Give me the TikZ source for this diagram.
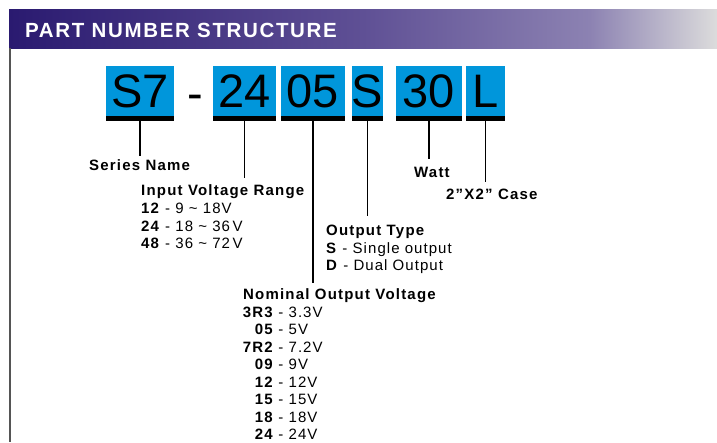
\documentclass[tikz,border=0pt]{standalone}
\usepackage{fontspec}
\setmainfont{Liberation Sans}
\usetikzlibrary{positioning, calc}

\definecolor{boxblue}{HTML}{0096DB}
\definecolor{hdrA}{HTML}{2A1A70}
\definecolor{hdrB}{HTML}{5F5095}
\definecolor{hdrC}{HTML}{8C82B2}
\definecolor{hdrD}{HTML}{DCDCDC}
\definecolor{rulegrey}{HTML}{555555}
\pgfdeclarehorizontalshading{headerfade}{100bp}{color(0bp)=(hdrA); color(25bp)=(hdrA); color(50bp)=(hdrB); color(66bp)=(hdrC); color(75bp)=(hdrD); color(100bp)=(hdrD)}

\tikzset{
  codebox/.style={fill=boxblue, minimum height=50pt, inner sep=0pt, font=\fontsize{47}{47}\selectfont},
  stem/.style={line width=1.8pt},
  heading/.style={anchor=base west, inner sep=0pt, font=\fontsize{15}{15}\selectfont\bfseries\addfontfeature{LetterSpace=8}},
  item/.style={anchor=base west, inner sep=0pt, font=\fontsize{15}{15}\selectfont\addfontfeature{LetterSpace=7}},
}

\begin{document}
\begin{tikzpicture}[x=1pt, y=-1pt]
    \useasboundingbox (0,0) rectangle (717,442);

    % Header band
    \shade[shading=headerfade] (9,9) rectangle (717,48);
    \node[anchor=base west, inner sep=0pt, text=white, font=\fontsize{20.5}{20.5}\selectfont\bfseries\addfontfeature{LetterSpace=8}] (title) at (25,37) {PART NUMBER STRUCTURE};
    \draw[rulegrey, line width=2pt] (10,48) -- (10,442);

    % Code boxes
    \node[codebox, minimum width=68pt] (s7) at (140,91) {S7};
    \node[font=\fontsize{47}{47}\selectfont, inner sep=0pt, anchor=base] (dash) at (195,109) {-};
    \node[codebox, minimum width=63pt] (vin) at (244.5,91) {24};
    \node[codebox, minimum width=64pt] (vout) at (313,91) {05};
    \node[codebox, minimum width=31pt] (otype) at (367.5,91) {S};
    \node[codebox, minimum width=66pt] (watt) at (429,91) {30};
    \node[codebox, minimum width=39pt] (case) at (485.5,91) {L};
    \foreach \b in {s7, vin, vout, otype, watt, case}
      \fill (\b.south west) rectangle ([yshift=-5pt]\b.south east);

    % Labels
    \node[heading] (series) at (89,170) {Series Name};
    \node[heading] (inrange) at (141,195) {Input Voltage Range};
    \node[item] (in12) at (141,213) {\textbf{12} - 9 \textasciitilde{} 18V};
    \node[item] (in24) at (141,231) {\textbf{24} - 18 \textasciitilde{} 36\,V};
    \node[item] (in48) at (141,248) {\textbf{48} - 36 \textasciitilde{} 72\,V};
    \node[heading] (outtype) at (326,235) {Output Type};
    \node[item] (single) at (326,253) {\textbf{S} - Single output};
    \node[item] (dual) at (326,270) {\textbf{D} - Dual Output};
    \node[heading] (wattlbl) at (414,177) {Watt};
    \node[heading] (caselbl) at (446,199) {2”X2” Case};
    \node[heading] (nominal) at (243,299) {Nominal Output Voltage};
    \foreach \code/\volt [count=\k] in {3R3/3.3V, 05/5V, 7R2/7.2V, 09/9V, 12/12V, 15/15V, 18/18V, 24/24V} {
      \node[heading, anchor=base east] (nv\k) at (273,299.5+17.5*\k) {\code};
      \node[item] at (nv\k.base east) {\ - \volt};
    }

    % Stems
    \draw[stem] ([yshift=-5pt]s7.south) -- ($(s7.south |- series.north)+(0,-3)$);
    \draw[stem] ([yshift=-5pt]vin.south) -- ($(vin.south |- inrange.north)+(0,-6)$);
    \draw[stem] ([yshift=-5pt]vout.south) -- ($(vout.south |- nominal.north)+(0,-5)$);
    \draw[stem] ([yshift=-5pt]otype.south) -- ($(otype.south |- outtype.north)+(0,-8)$);
    \draw[stem] ([yshift=-5pt]watt.south) -- ($(watt.south |- wattlbl.north)+(0,-7)$);
    \draw[stem] ([yshift=-5pt]case.south) -- ($(case.south |- caselbl.north)+(0,-6)$);
\end{tikzpicture}
\end{document}
